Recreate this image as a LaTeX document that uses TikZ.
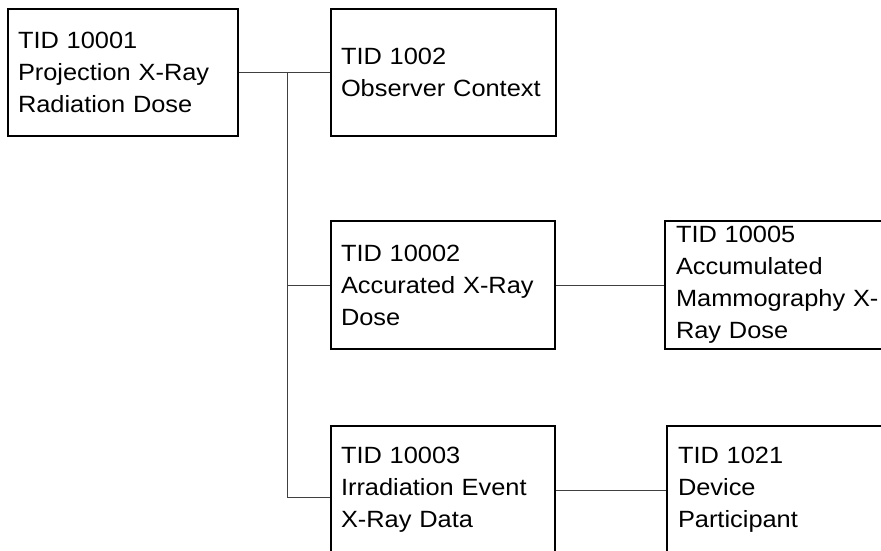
\documentclass[tikz,border=0pt]{standalone}
\usepackage{fontspec}
\setmainfont{Liberation Sans}[FakeStretch=1.08]
\begin{document}
\begin{tikzpicture}[x=1pt,y=-1pt,
  tbox/.style={draw=black, line width=1.3pt, rectangle, inner xsep=10pt, inner ysep=0pt,
    minimum height=127pt, align=left, font=\fontsize{23.5}{32}\selectfont, anchor=center},
  link/.style={draw=black!75, line width=1pt}]
\useasboundingbox (0,0) rectangle (881,550);
\clip (0,0) rectangle (881,550);
\node[tbox, text width=210pt] (A) at (123,72.5) {TID 10001\\Projection X-Ray\\Radiation Dose};
\node[tbox, text width=205pt] (B) at (443.5,72.5) {TID 1002\\Observer Context};
\node[tbox, text width=204pt, minimum height=128pt] (C) at (443,285) {TID 10002\\Accurated X-Ray\\Dose};
\node[tbox, inner xsep=11pt, text width=218pt, minimum height=128pt] (D) at (785,285) {TID 10005\\Accumulated\\Mammography X-\\Ray Dose};
\node[tbox, text width=204pt, minimum height=128pt] (E) at (443,490) {TID 10003\\Irradiation Event\\X-Ray Data};
\node[tbox, inner xsep=11pt, text width=218pt, minimum height=128pt] (F) at (787,490) {TID 1021\\Device\\Participant};
\coordinate (J) at (287,72.5);
\draw[link] (A.east) -- (B.west);
\draw[link] (J) |- (C.west);
\draw[link] (J) |- ([yshift=-7pt]E.west);
\draw[link] (C.east) -- (D.west);
\draw[link] (E.east) -- (F.west);
\end{tikzpicture}
\end{document}
